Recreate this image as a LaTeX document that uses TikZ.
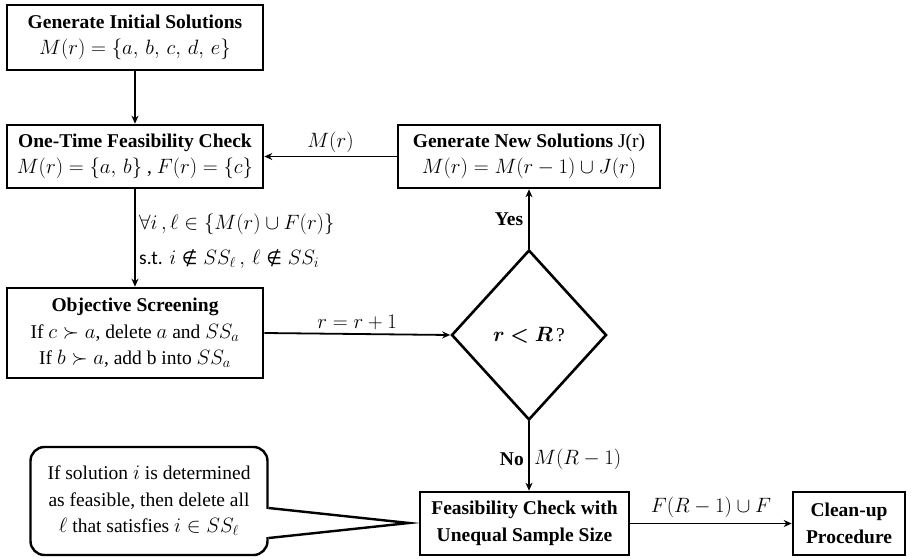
\documentclass[tikz,border=0pt]{standalone}
\usepackage{amsmath,amssymb,bm}
\usepackage{fontspec}
\setmainfont{Liberation Serif}
\newfontfamily\stfont{Carlito}
\newfontfamily\symfont{DejaVu Sans}
\newcommand{\nin}{\mathrel{\text{\symfont\fontsize{18}{20}\selectfont ∉}}}
\DeclareMathSizes{19.5}{21.5}{15}{12}
\usetikzlibrary{shapes.geometric,arrows.meta}
\begin{document}
\begin{tikzpicture}[x=1pt,y=-1pt,
  every node/.style={font=\fontsize{19.5}{26.5}\selectfont},
  box/.style={draw,line width=2.6pt,align=center,inner sep=0pt},
  conn/.style={line width=1.8pt,-{Stealth[length=8pt,width=7pt]}},
  lbl/.style={inner sep=2pt}]
\useasboundingbox (0,0) rectangle (912,559);
\node[box,minimum width=256,minimum height=65] (b1) at (135,37.5)
  {\textbf{Generate Initial Solutions}\\ $M(r)=\{a,\,b,\,c,\,d,\,e\}$};
\node[box,minimum width=256,minimum height=63] (b2) at (135,156.5)
  {\textbf{One-Time Feasibility Check}\\ $M(r)=\{a,\,b\}$ , $F(r)=\{c\}$};
\node[box,minimum width=262,minimum height=63] (b3) at (529,156.5)
  {\textbf{Generate New Solutions} J(r)\\ $M(r)=M(r-1)\cup J(r)$};
\node[box,minimum width=256,minimum height=90] (b4) at (135,333)
  {\textbf{Objective Screening}\\ If $c\succ a$, delete $a$ and $SS_a$\\ If $b\succ a$, add b into $SS_a$};
\node[draw,diamond,line width=2.6pt,minimum width=155,minimum height=170,inner sep=0pt] (d) at (529,335)
  {$\bm{r<R}$\,?};
\node[box,minimum width=209,minimum height=63] (b5) at (524.5,523.5)
  {\textbf{Feasibility Check with}\\ \textbf{Unequal Sample Size}};
\node[box,minimum width=112,minimum height=63] (b6) at (849,523.5)
  {\textbf{Clean-up}\\ \textbf{Procedure}};
\node[draw,line width=2.4pt,rounded corners=14pt,minimum width=237,minimum height=108,align=center,inner sep=0pt] (note) at (149,501)
  {If solution $i$ is determined\\ as feasible, then delete all\\ $\ell$ that satisfies $i\in SS_\ell$};
\coordinate (tip) at (409,523);
\fill[white] ([xshift=-3pt]note.east |- 0,509) -- (tip) -- ([xshift=-3pt]note.east |- 0,537) -- cycle;
\draw[line width=2.4pt,line join=miter] (note.east |- 0,508) -- (tip) -- (note.east |- 0,538);
% connectors
\draw[conn] (b1.south) -- (b2.north);
\draw[conn] (b3.west) -- node[lbl,above=1pt] {$M(r)$} (b2.east);
\draw[conn] (b2.south) -- (b4.north);
\node[lbl,anchor=west] (c1) at (137,224) {$\forall i\,,\ell\in\{M(r)\cup F(r)\}$};
\node[lbl,anchor=west] (c2) at (137,259) {{\stfont s.t.} $i\nin SS_{\ell}\,,\,\ell\nin SS_i$};
\draw[conn] (b4.east) -- node[lbl,above=1pt] {$r=r+1$} (d.west);
\draw[conn] (d.north) -- node[lbl,left=3pt] {\textbf{Yes}} (d.north |- b3.south);
\draw[conn] (d.south) -- coordinate[pos=0.55] (mid) (d.south |- b5.north);
\node[lbl,left=3pt] (no) at (mid) {\textbf{No}};
\node[lbl,right=3pt] (mr) at (mid) {$M(R-1)$};
\draw[conn] (b5.east) -- node[lbl,above=3pt] {$F(R-1)\cup F$} (b6.west);
\end{tikzpicture}
\end{document}
